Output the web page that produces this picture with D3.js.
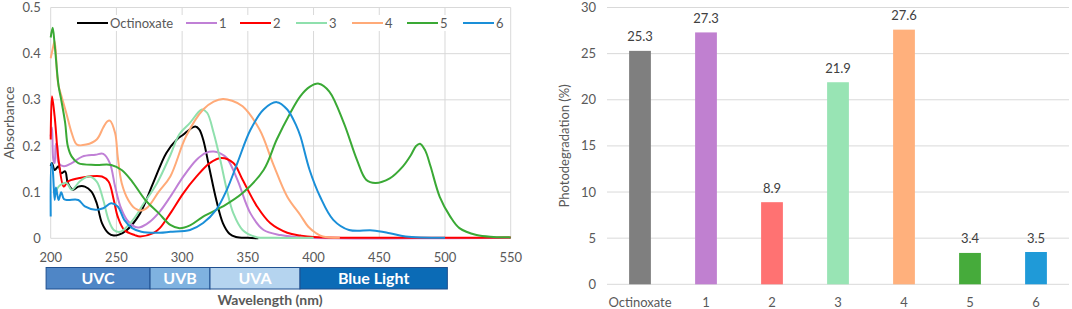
<!DOCTYPE html>
<html>
<head>
<meta charset="utf-8">
<script src="https://cdn.jsdelivr.net/npm/d3@7"></script>
<style>
  body { margin: 0; background: #fff; }
  svg text { font-family: Lato, "Open Sans", sans-serif; fill: #595959; }
</style>
</head>
<body>
<div id="chart"></div>
<script>
// absorbance spectra (wavelength nm, absorbance)
var octinoxate = [[200,0.156],[201,0.163],[203,0.148],[206,0.156],[208,0.141],[211,0.145],[213,0.12],[217,0.105],
  [221,0.112],[226,0.112],[231,0.101],[235,0.076],[239,0.033],[244,0.011],[248,0.006],[252,0.008],[258,0.018],
  [268,0.054],[278,0.12],[288,0.185],[296,0.214],[301,0.225],[304,0.232],[310,0.242],[313,0.236],[316,0.214],
  [321,0.148],[326,0.083],[331,0.033],[336,0.01],[341,0.003],[350,0.001],[358,0]];
var s1 = [[200,0.221],[201,0.24],[202,0.17],[203,0.163],[204,0.205],[205,0.2],[206,0.163],[210,0.156],[216,0.163],
  [224,0.177],[234,0.181],[240,0.183],[245,0.163],[249,0.112],[253,0.069],[258,0.04],[264,0.025],[268,0.024],
  [275,0.035],[283,0.058],[291,0.09],[301,0.134],[311,0.17],[318,0.185],[324,0.188],[329,0.184],[334,0.174],
  [342,0.127],[352,0.054],[362,0.018],[375,0.007],[390,0.002],[550,0.001]];
var s2 = [[200,0.214],[201,0.308],[203,0.264],[206,0.17],[210,0.112],[213,0.123],[221,0.13],[229,0.134],[239,0.134],
  [244,0.123],[248,0.083],[251,0.047],[256,0.018],[264,0.007],[268,0.004],[278,0.011],[283,0.022],[291,0.054],
  [301,0.098],[311,0.134],[321,0.163],[330,0.174],[339,0.163],[346,0.127],[357,0.069],[367,0.033],[380,0.012],
  [390,0.006],[400,0.003],[550,0.002]];
var s3 = [[204,0.1],[206,0.112],[212,0.12],[216,0.105],[222,0.123],[229,0.134],[235,0.123],[240,0.083],[244,0.04],
  [248,0.018],[253,0.014],[258,0.025],[264,0.045],[270,0.072],[281,0.12],[291,0.18],[298,0.226],[306,0.25],
  [312,0.272],[315,0.279],[319,0.272],[324,0.228],[329,0.17],[334,0.105],[339,0.054],[346,0.018],[356,0.003],
  [370,0.001],[400,0.001]];
var s4 = [[200,0.39],[201.5,0.41],[203,0.427],[205,0.35],[206,0.33],[208,0.31],[212,0.27],[216,0.228],[220,0.203],
  [227,0.203],[235,0.214],[240,0.24],[243,0.253],[245,0.255],[249,0.228],[251,0.177],[254,0.12],[259,0.083],
  [264,0.065],[269,0.06],[274,0.068],[282,0.1],[291,0.134],[303,0.221],[316,0.279],[324,0.296],[331,0.302],
  [338,0.298],[346,0.286],[359,0.235],[369,0.163],[380,0.09],[390,0.05],[396,0.025],[402,0.011],[407,0.004],
  [420,0.001]];
var s5 = [[200,0.435],[201.5,0.456],[203,0.42],[206,0.33],[208,0.3],[211,0.25],[213,0.2],[216,0.177],[221,0.163],
  [234,0.159],[246,0.159],[254,0.148],[262,0.123],[272,0.083],[282,0.055],[291,0.029],[298,0.022],[306,0.028],
  [316,0.047],[331,0.069],[346,0.098],[362,0.148],[372,0.214],[382,0.27],[390,0.308],[397,0.328],[404,0.335],
  [412,0.318],[423,0.25],[433,0.17],[440,0.127],[447,0.12],[458,0.13],[468,0.156],[474,0.18],[478,0.2],
  [481,0.205],[485,0.19],[489,0.156],[496,0.09],[504,0.047],[511,0.022],[524,0.007],[537,0.003],[550,0.002]];
var s6 = [[200,0.047],[200.5,0.163],[201.5,0.15],[203,0.083],[204,0.11],[206,0.083],[208,0.1],[210,0.085],
  [213,0.083],[221,0.083],[226,0.069],[234,0.062],[240,0.065],[246,0.076],[251,0.069],[256,0.04],[262,0.022],
  [269,0.014],[283,0.012],[291,0.014],[306,0.018],[316,0.033],[326,0.062],[334,0.105],[342,0.163],[352,0.235],
  [362,0.279],[372,0.295],[380,0.279],[387,0.243],[390,0.221],[397,0.148],[405,0.09],[415,0.04],[427,0.018],
  [445,0.017],[458,0.011],[470,0.004],[500,0.001]];

var seriesNames = ["Octinoxate", "1", "2", "3", "4", "5", "6"];
var seriesData = [octinoxate, s1, s2, s3, s4, s5, s6];
var lineColors = ["#000000", "#c080d6", "#ff0000", "#8fe0ad", "#ffaa78", "#3aa935", "#1a8fd8"];

var xTicks = [200, 250, 300, 350, 400, 450, 500, 550];
var yTicks = [0, 0.1, 0.2, 0.3, 0.4, 0.5];

// spectral regions drawn under the x axis (edges in nm, as placed in the figure)
var bandNames = ["UVC", "UVB", "UVA", "Blue Light"];
var bandEdges = [196.5, 275.6, 321.2, 389.7, 501.8];
var bandColors = ["#4f86c6", "#7fb2e0", "#b5d4ef", "#0b6bb6"];

// photodegradation bars
var barCats = ["Octinoxate", "1", "2", "3", "4", "5", "6"];
var barVals = [25.3, 27.3, 8.9, 21.9, 27.6, 3.4, 3.5];
var barColors = ["#7f7f7f", "#c080d0", "#ff7272", "#98e4b4", "#ffb07c", "#46ab3b", "#1f9ad8"];
var barTicks = [0, 5, 10, 15, 20, 25, 30];

var W = 1072, H = 309, gridCol = "#d9d9d9";
var svg = d3.select("#chart").append("svg").attr("width", W).attr("height", H);

// ---------- left: absorbance spectra ----------
var x = d3.scaleLinear().domain([200, 550]).range([50.7, 510.7]);
var y = d3.scaleLinear().domain([0, 0.5]).range([238.3, 7.5]);

var left = svg.append("g");
left.selectAll("line.hg").data(yTicks).join("line").attr("class", "hg")
  .attr("x1", x(200)).attr("x2", x(550))
  .attr("y1", d => y(d)).attr("y2", d => y(d))
  .attr("stroke", gridCol).attr("stroke-width", 1);
left.selectAll("line.vg").data(xTicks).join("line").attr("class", "vg")
  .attr("x1", d => x(d)).attr("x2", d => x(d))
  .attr("y1", y(0)).attr("y2", y(0.5))
  .attr("stroke", gridCol).attr("stroke-width", 1);

left.selectAll("text.yt").data(yTicks).join("text").attr("class", "yt")
  .attr("x", x(200) - 10).attr("y", d => y(d)).attr("dy", "0.35em")
  .attr("text-anchor", "end").style("font-size", "13px")
  .text(d => d === 0 ? "0" : d3.format(".1f")(d));
left.selectAll("text.xt").data(xTicks).join("text").attr("class", "xt")
  .attr("x", d => x(d)).attr("y", 257).attr("dy", "0.35em")
  .attr("text-anchor", "middle").style("font-size", "13px")
  .text(d => d);

left.append("text").attr("transform", "translate(9," + y(0.25) + ") rotate(-90)")
  .attr("text-anchor", "middle").attr("dy", "0.35em").style("font-size", "14px")
  .text("Absorbance");

var line = d3.line().x(d => x(d[0])).y(d => y(d[1])).curve(d3.curveCatmullRom.alpha(0.5));
left.selectAll("path.sp").data(seriesData).join("path").attr("class", "sp")
  .attr("d", d => line(d)).attr("fill", "none")
  .attr("stroke", (d, i) => lineColors[i]).attr("stroke-width", 2)
  .attr("stroke-linejoin", "round");

// legend
var legX = [77, 186, 240, 296, 352, 407, 463];
var leg = left.selectAll("g.leg").data(seriesNames).join("g").attr("class", "leg")
  .attr("transform", (d, i) => "translate(" + legX[i] + ",23)");
leg.append("rect").attr("x", -2).attr("y", -8).attr("width", d => d.length * 7 + 38).attr("height", 16).attr("fill", "#fff");
leg.append("line").attr("x1", 0).attr("x2", 31).attr("y1", 0).attr("y2", 0)
  .attr("stroke", (d, i) => lineColors[i]).attr("stroke-width", 2);
leg.append("text").attr("x", 33).attr("dy", "0.35em").style("font-size", "13px").text(d => d);

// spectral band boxes
var bands = left.selectAll("g.band").data(bandNames).join("g").attr("class", "band");
bands.append("rect")
  .attr("x", (d, i) => x(bandEdges[i])).attr("y", 267.5)
  .attr("width", (d, i) => x(bandEdges[i + 1]) - x(bandEdges[i])).attr("height", 21.5)
  .attr("fill", (d, i) => bandColors[i]).attr("stroke", "#1f4f8f").attr("stroke-width", 1);
bands.append("text")
  .attr("x", (d, i) => (x(bandEdges[i]) + x(bandEdges[i + 1])) / 2).attr("y", 278.5).attr("dy", "0.36em")
  .attr("text-anchor", "middle").style("font-size", "16px").style("font-weight", "bold").style("fill", "#fff")
  .text(d => d);

left.append("text").attr("x", 270).attr("y", 300).attr("dy", "0.35em")
  .attr("text-anchor", "middle").style("font-size", "14px").style("font-weight", "bold")
  .text("Wavelength (nm)");

// ---------- right: photodegradation bars ----------
var xb = d3.scaleBand().domain(barCats).range([607, 1069]).padding(0);
var yb = d3.scaleLinear().domain([0, 30]).range([284.3, 7.5]);
var barW = xb.bandwidth() * 0.33;

var right = svg.append("g");
right.selectAll("line.bg").data(barTicks).join("line").attr("class", "bg")
  .attr("x1", 607).attr("x2", 1069)
  .attr("y1", d => yb(d)).attr("y2", d => yb(d))
  .attr("stroke", gridCol).attr("stroke-width", 1);
right.selectAll("text.byt").data(barTicks).join("text").attr("class", "byt")
  .attr("x", 596).attr("y", d => yb(d)).attr("dy", "0.35em")
  .attr("text-anchor", "end").style("font-size", "13px").text(d => d);

right.selectAll("rect.bar").data(barVals).join("rect").attr("class", "bar")
  .attr("x", (d, i) => xb(barCats[i]) + xb.bandwidth() / 2 - barW / 2)
  .attr("width", barW)
  .attr("y", d => yb(d)).attr("height", d => yb(0) - yb(d))
  .attr("fill", (d, i) => barColors[i]);

right.selectAll("text.bv").data(barVals).join("text").attr("class", "bv")
  .attr("x", (d, i) => xb(barCats[i]) + xb.bandwidth() / 2)
  .attr("y", d => yb(d) - 14).attr("dy", "0.35em")
  .attr("text-anchor", "middle").style("font-size", "13px").style("fill", "#404040")
  .text(d => d3.format(".1f")(d));

right.selectAll("text.bc").data(barCats).join("text").attr("class", "bc")
  .attr("x", d => xb(d) + xb.bandwidth() / 2).attr("y", 302).attr("dy", "0.35em")
  .attr("text-anchor", "middle").style("font-size", "13px").text(d => d);

right.append("text").attr("transform", "translate(564," + yb(15) + ") rotate(-90)")
  .attr("text-anchor", "middle").attr("dy", "0.35em").style("font-size", "13px")
  .text("Photodegradation (%)");
</script>
</body>
</html>
